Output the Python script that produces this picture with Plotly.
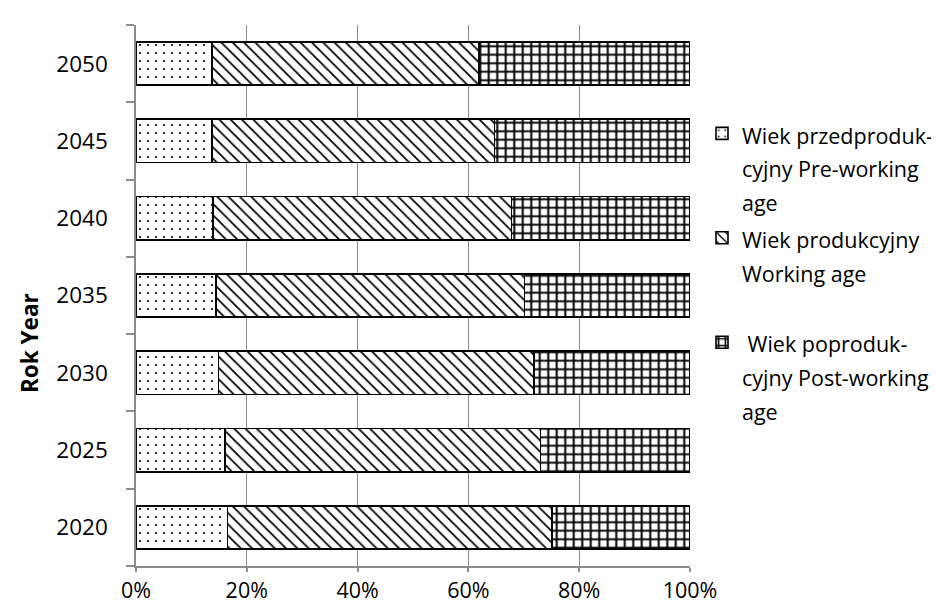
import plotly.graph_objects as go

years = ["2020", "2025", "2030", "2035", "2040", "2045", "2050"]
pre_working = [16.5, 16.1, 14.9, 14.4, 13.9, 13.7, 13.7]
working = [58.6, 56.9, 56.9, 55.7, 53.9, 51.0, 48.2]
post_working = [24.9, 27.0, 28.2, 29.9, 32.2, 35.3, 38.1]

series_names = [
    ["Wiek przedproduk-", "cyjny Pre-working", "age"],
    ["Wiek produkcyjny", "Working age", " "],
    [" Wiek poproduk-", "cyjny Post-working", "age"],
]
x_ticks = [0, 20, 40, 60, 80, 100]
x_ticklabels = ["0%", "20%", "40%", "60%", "80%", "100%"]

FONT = "Open Sans"
GRAY = "#8c8c8c"


def legend_label(lines, size=21.5):
    return "<br>".join(f'<span style="font-size:{size}px">{l}</span>' for l in lines)


patterns = [
    dict(shape=".", size=8, solidity=0.06),
    dict(shape="\\", size=8, solidity=0.22),
    dict(shape="+", size=8.5, solidity=0.42),
]
values = [pre_working, working, post_working]

fig = go.Figure()
for name, vals, pat in zip(series_names, values, patterns):
    fig.add_trace(go.Bar(
        y=years, x=vals, orientation="h",
        name=legend_label(name),
        marker=dict(
            color="white",
            line=dict(color="black", width=1.6),
            pattern=dict(fgcolor="black", bgcolor="white", fillmode="replace", **pat),
        ),
    ))

fig.update_layout(
    width=939, height=603,
    barmode="stack", bargap=0.44,
    paper_bgcolor="white", plot_bgcolor="white",
    margin=dict(l=128, r=257, t=17, b=45, autoexpand=False),
    font=dict(family=FONT, size=22.5, color="black"),
    showlegend=True,
    legend=dict(
        traceorder="normal",
        x=(694 - 128) / 554, xanchor="left",
        y=(558 - 102) / 541, yanchor="top",
        font=dict(size=26, family=FONT, color="black"),
        valign="top", itemclick=False,
        bgcolor="rgba(0,0,0,0)",
    ),
    xaxis=dict(
        range=[0, 100], tickvals=x_ticks, ticktext=x_ticklabels,
        tickfont=dict(size=21.5),
        showgrid=True, gridcolor=GRAY, gridwidth=1.2,
        zeroline=False, showline=True, linecolor=GRAY, linewidth=1.5,
        ticks="outside", ticklen=4, tickcolor=GRAY, tickwidth=1.5,
        automargin=False, fixedrange=True,
    ),
    yaxis=dict(
        type="category", categoryorder="array", categoryarray=years,
        showgrid=False, zeroline=False, showline=True,
        linecolor=GRAY, linewidth=1.5,
        ticks="outside", ticklen=8, tickcolor=GRAY, tickwidth=1.5,
        tickson="boundaries", ticklabelstandoff=22,
        automargin=False, fixedrange=True,
    ),
    annotations=[dict(
        text="<b>Rok Year</b>", textangle=-90,
        xref="paper", yref="paper",
        x=(21 - 128) / 554, y=(558 - 335) / 541,
        xanchor="center", yanchor="middle", showarrow=False,
        font=dict(family=FONT, size=22.5, color="black"),
    )],
)

fig.write_html("out.html")
